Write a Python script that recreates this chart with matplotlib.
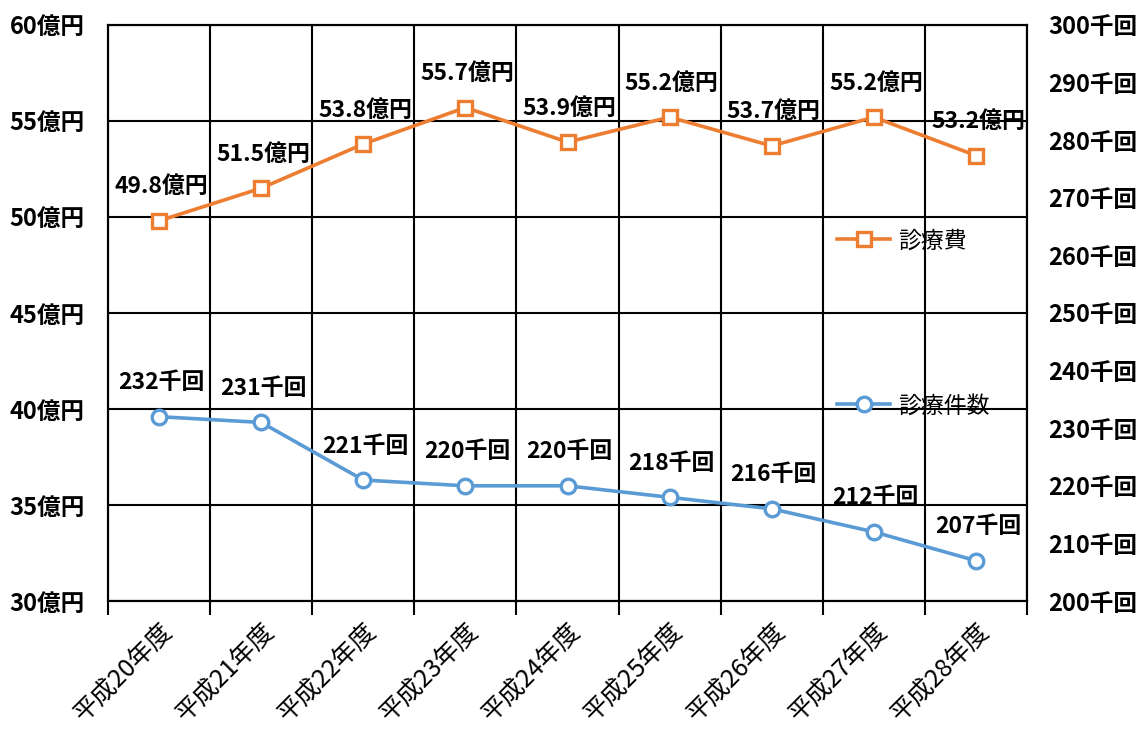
import numpy as np
import matplotlib as mpl
mpl.use('Agg')
import matplotlib.pyplot as plt

plt.rcParams['font.family'] = ['Noto Sans CJK JP', 'DejaVu Sans']

years = ['平成20年度', '平成21年度', '平成22年度', '平成23年度', '平成24年度',
         '平成25年度', '平成26年度', '平成27年度', '平成28年度']
cost = [49.8, 51.5, 53.8, 55.7, 53.9, 55.2, 53.7, 55.2, 53.2]       # 億円
count = [232, 231, 221, 220, 220, 218, 216, 212, 207]              # 千回
left_ticks = [30, 35, 40, 45, 50, 55, 60]
right_ticks = [200, 210, 220, 230, 240, 250, 260, 270, 280, 290, 300]

orange = '#ED7D31'
blue = '#5B9BD5'

fig, ax = plt.subplots(figsize=(11.42, 7.30), dpi=100)
fig.subplots_adjust(left=0.0946, right=0.8993, top=0.9658, bottom=0.1767)
ax2 = ax.twinx()

x = np.arange(len(years))

l1, = ax.plot(x, cost, color=orange, lw=2.6, marker='s', ms=10.5,
              mfc='white', mec=orange, mew=2.4, label='診療費', zorder=5)
l2, = ax2.plot(x, count, color=blue, lw=2.6, marker='o', ms=10.5,
               mfc='white', mec=blue, mew=2.4, label='診療件数', zorder=5)

for xi, v in zip(x, cost):
    ax.annotate(f'{v:.1f}億円', (xi, v), xytext=(2, 34), textcoords='offset pixels',
                ha='center', va='center', fontsize=16.5, fontweight='bold')
for xi, v in zip(x, count):
    ax2.annotate(f'{v}千回', (xi, v), xytext=(2, 34), textcoords='offset pixels',
                 ha='center', va='center', fontsize=16.5, fontweight='bold')

ax.set_xlim(-0.5, len(years) - 0.5)
ax.set_ylim(30, 60)
ax2.set_ylim(200, 300)

ax.set_yticks(left_ticks)
ax.set_yticklabels([f'{t}億円' for t in left_ticks], fontsize=17, fontweight='bold')
ax2.set_yticks(right_ticks)
ax2.set_yticklabels([f'{t}千回' for t in right_ticks], fontsize=17, fontweight='bold')
ax.tick_params(axis='y', length=0, pad=17)
ax2.tick_params(axis='y', length=0, pad=15)

ax.set_xticks(x)
ax.set_xticklabels(years, rotation=45, ha='right', rotation_mode='anchor', fontsize=18)
ax.tick_params(axis='x', which='major', length=0, pad=12)
ax.set_xticks(np.arange(-0.5, len(years), 1), minor=True)
ax.tick_params(axis='x', which='minor', length=10, width=1.5, color='black', direction='out')

ax.grid(True, axis='y', color='black', lw=1.5)
ax.grid(True, axis='x', which='minor', color='black', lw=1.5)
ax.set_axisbelow(True)

for a in (ax, ax2):
    for s in a.spines.values():
        s.set_color('black')
        s.set_linewidth(1.5)

ax.set_zorder(ax2.get_zorder() - 1)
ax2.patch.set_visible(False)

leg = ax2.legend(handles=[l1, l2], loc='upper left', bbox_to_anchor=(0.771, 0.681),
                 frameon=False, fontsize=16.5, labelspacing=6.2, handlelength=2.3,
                 handletextpad=0.35)

plt.savefig('out.png')
